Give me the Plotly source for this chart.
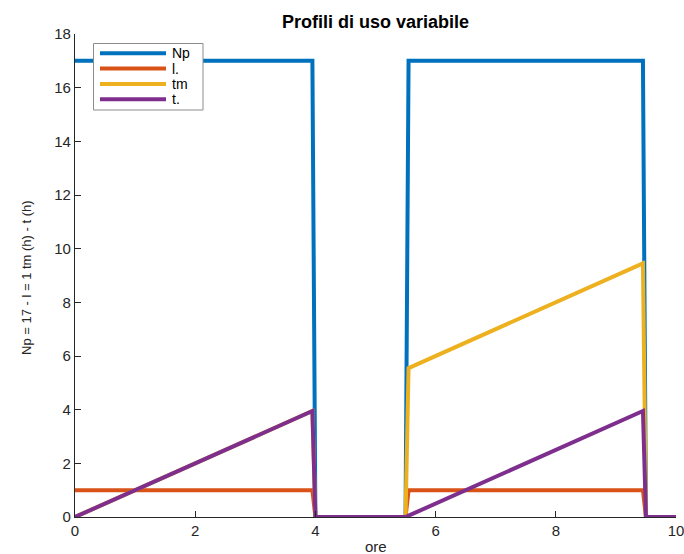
import numpy as np
import plotly.graph_objects as go

# Hourly profile sampled every 0.05 h over 0..10 h
ore = np.round(np.arange(0, 10.0001, 0.05), 2)

# Usage windows: 0 <= h < 4 and 5.5 < h < 9.5
in_uso = ((ore >= 0) & (ore < 4)) | ((ore > 5.5) & (ore < 9.5))

Np = np.where(in_uso, 17.0, 0.0)
l_val = np.where(in_uso, 1.0, 0.0)
tm = np.where(in_uso, ore, 0.0)
t_val = np.where(in_uso, np.where(ore < 4, ore, ore - 5.5), 0.0)

serie_nomi = ["Np", "l.", "tm", "t."]
serie_valori = [Np, l_val, tm, t_val]
colori = ["#0072BD", "#D95319", "#EDB120", "#7E2F8E"]

x_ticks = [0, 2, 4, 6, 8, 10]
y_ticks = [0, 2, 4, 6, 8, 10, 12, 14, 16, 18]

FONT = "Liberation Sans, Arial, sans-serif"

fig = go.Figure()
for nome, vals, col in zip(serie_nomi, serie_valori, colori):
    fig.add_trace(go.Scatter(x=ore, y=vals, mode="lines", name=nome,
                             line=dict(color=col, width=4),
                             showlegend=False))

# Plot area in pixels (figure 684 x 554)
L, R, T, B = 75, 8, 34, 37
W, H = 684, 554
pw, ph = W - L - R, H - T - B


def px_x(px):
    return (px - L) / pw


def px_y(py):
    return (H - B - py) / ph


shapes = []
annotations = []

# Legend box
shapes.append(dict(type="rect", xref="paper", yref="paper",
                   x0=px_x(93.5), x1=px_x(203), y0=px_y(110), y1=px_y(43.5),
                   line=dict(color="#8c8c8c", width=1), fillcolor="white",
                   layer="above"))
for i, (nome, col) in enumerate(zip(serie_nomi, colori)):
    yy = 53.3 + i * 15.3
    shapes.append(dict(type="line", xref="paper", yref="paper",
                       x0=px_x(100), x1=px_x(166), y0=px_y(yy), y1=px_y(yy),
                       line=dict(color=col, width=4), layer="above"))
    annotations.append(dict(text=nome, xref="paper", yref="paper",
                            x=px_x(170), y=px_y(yy), xanchor="left",
                            yanchor="middle", showarrow=False,
                            font=dict(family=FONT, size=14, color="black")))

# Axis titles
annotations.append(dict(text="ore", xref="paper", yref="paper",
                        x=0.5, y=px_y(546), xanchor="center",
                        yanchor="middle", showarrow=False,
                        font=dict(family=FONT, size=15, color="#262626")))
annotations.append(dict(text="Np = 17 - l = 1 tm (h) - t (h)", xref="paper",
                        yref="paper", x=px_x(26), y=px_y(278),
                        xanchor="center", yanchor="middle", textangle=-90,
                        showarrow=False,
                        font=dict(family=FONT, size=13, color="#262626")))

fig.update_layout(
    width=W, height=H,
    margin=dict(l=L, r=R, t=T, b=B, pad=0),
    paper_bgcolor="white", plot_bgcolor="white",
    title=dict(text="<b>Profili di uso variabile</b>", x=(L + pw / 2) / W,
               xanchor="center", y=1 - 22 / H, yanchor="middle",
               font=dict(family=FONT, size=18, color="black")),
    font=dict(family=FONT, size=14, color="#262626"),
    showlegend=False,
    shapes=shapes,
    annotations=annotations,
    xaxis=dict(range=[0, 10], tickvals=x_ticks, ticks="inside", ticklen=6,
               tickcolor="#262626", showline=True, linecolor="#262626",
               linewidth=1.2, showgrid=False, zeroline=False,
               automargin=False, ticklabeloverflow="allow",
               tickfont=dict(size=15, color="#262626")),
    yaxis=dict(range=[0, 18], tickvals=y_ticks, ticks="inside", ticklen=6,
               tickcolor="#262626", showline=True, linecolor="#262626",
               linewidth=1.2, showgrid=False, zeroline=False,
               automargin=False, ticklabeloverflow="allow",
               tickfont=dict(size=15, color="#262626")),
)

fig.write_html("out.html")
